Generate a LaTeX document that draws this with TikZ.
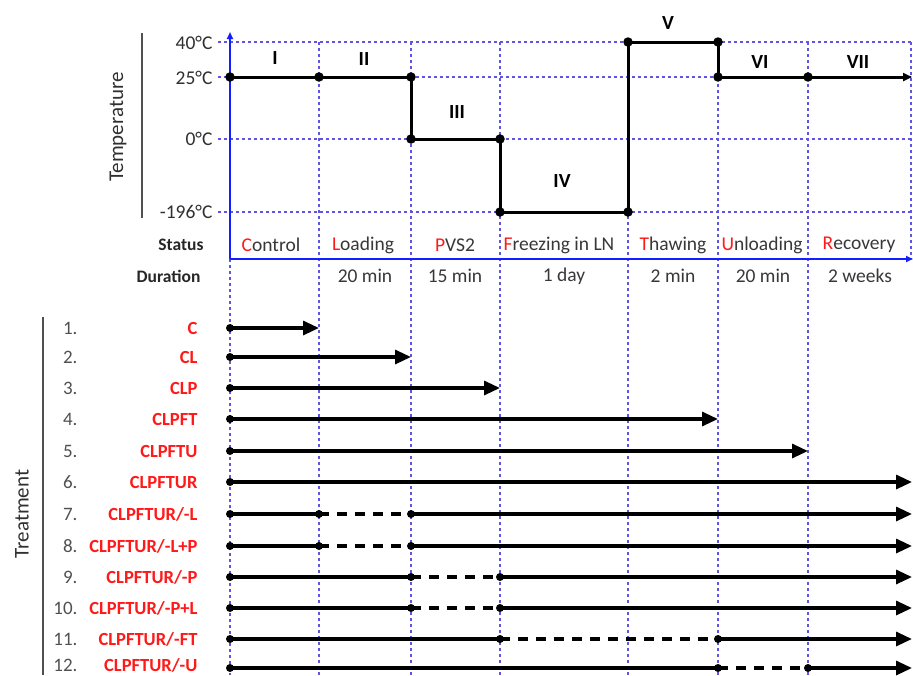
\documentclass[tikz,border=0pt]{standalone}
\usepackage{fontspec}
\setmainfont{Carlito}
\usetikzlibrary{arrows.meta}
\definecolor{gridblue}{RGB}{95,85,225}
\definecolor{axisblue}{RGB}{20,30,255}
\definecolor{lblred}{RGB}{255,25,25}
\definecolor{numgray}{RGB}{80,80,80}
\begin{document}
\begin{tikzpicture}[x=1pt,y=-1pt,
  gridln/.style={gridblue, line width=1.1pt, dash pattern=on 3pt off 3pt},
  axisln/.style={axisblue, line width=2pt, -{Triangle[length=7pt,width=6pt]}},
  sepln/.style={numgray, line width=1.3pt},
  prof/.style={black, line width=3pt},
  pdot/.style={circle, fill=black, inner sep=0pt, minimum size=9.5pt},
  tdot/.style={circle, fill=black, inner sep=0pt, minimum size=8pt},
  tline/.style={black, line width=3.2pt},
  tarrow/.style={tline, -{Triangle[length=16pt,width=14pt]}},
  gapln/.style={black, line width=3.2pt, dash pattern=on 10pt off 8pt},
  temp/.style={anchor=east, font=\fontsize{19.5}{21}\selectfont, text=numgray!60!black},
  roman/.style={font=\fontsize{20}{22}\selectfont\bfseries},
  stat/.style={font=\fontsize{19.5}{21}\selectfont, text=numgray!70!black},
  rowhead/.style={anchor=east, font=\fontsize{17.5}{20}\selectfont\bfseries, text=black!85},
  num/.style={anchor=east, font=\fontsize{19}{21}\selectfont, text=numgray},
  lbl/.style={anchor=east, font=\fontsize{18.5}{20}\selectfont\bfseries, text=lblred},
  axtitle/.style={rotate=90, font=\fontsize{21}{23}\selectfont, text=numgray!60!black}
]
\useasboundingbox (0,0) rectangle (913,675);
\fill[white] (0,0) rectangle (913,675);

% grid
\foreach \yy in {42,77,139,212} \draw[gridln] (218,\yy) -- (912,\yy);
\foreach \xx in {319,411,500,628,718,808} \draw[gridln] (\xx,42) -- (\xx,675);
\draw[gridln] (911,42) -- (911,259);
\draw[gridln] (230,259) -- (230,675);

% axes
\coordinate (orig) at (230,259);
\coordinate (ytop) at (230,32);
\coordinate (xend) at (913,259);
\draw[axisln] (orig) -- (ytop);
\draw[axisln] (orig) -- (xend);

% separators and axis titles
\draw[sepln] (142,33) -- (142,218);
\draw[sepln] (43,317) -- (43,675);
\node[axtitle] (ttemp) at (118,127) {Temperature};
\node[axtitle] (ttreat) at (22,514) {Treatment};

% temperature labels
\node[temp] (t40) at (216,43) {40°C};
\node[temp] (t25) at (216,78) {25°C};
\node[temp] (t0) at (216,139) {0°C};
\node[temp] (tm196) at (216,212) {-196°C};

% temperature profile
\coordinate (p1) at (230,77);
\coordinate (p2) at (319,77);
\coordinate (p3) at (411,77);
\coordinate (p4) at (411,139);
\coordinate (p5) at (500,139);
\coordinate (p6) at (500,212);
\coordinate (p7) at (628,212);
\coordinate (p8) at (628,42);
\coordinate (p9) at (718,42);
\coordinate (p10) at (718,77);
\coordinate (p11) at (808,77);
\coordinate (p12) at (912,77);
\draw[prof, line join=round] (p1) -- (p3) -- (p4) -- (p5) -- (p6) -- (p7) -- (p8) -- (p9) -- (p10) -- (p11);
\draw[prof, -{Triangle[length=9pt,width=8pt]}] (p11) -- (p12);
\foreach \p in {p1,p2,p3,p4,p5,p6,p7,p8,p9,p10,p11} \node[pdot] at (\p) {};

% roman numerals
\node[roman] (rI) at (275,58) {I};
\node[roman] (rII) at (364,59) {II};
\node[roman] (rIII) at (457,112) {III};
\node[roman] (rIV) at (562,181) {IV};
\node[roman] (rV) at (668,23) {V};
\node[roman] (rVI) at (760,62) {VI};
\node[roman] (rVII) at (858,62) {VII};

% status and duration
\node[rowhead] (hstat) at (207,245) {Status};
\node[rowhead] (hdur) at (204,276) {Duration};
\node[stat] (s1) at (271,245) {\textcolor{lblred}{C}ontrol};
\node[stat] (s2) at (363,245) {\textcolor{lblred}{L}oading};
\node[stat] (s3) at (455,245) {\textcolor{lblred}{P}VS2};
\node[stat] (s4) at (559,245) {\textcolor{lblred}{F}reezing in LN};
\node[stat] (s5) at (673,245) {\textcolor{lblred}{T}hawing};
\node[stat] (s6) at (762,245) {\textcolor{lblred}{U}nloading};
\node[stat] (s7) at (859,245) {\textcolor{lblred}{R}ecovery};
\node[stat] (d2) at (365,276) {20 min};
\node[stat] (d3) at (455,276) {15 min};
\node[stat] (d4) at (564,276) {1 day};
\node[stat] (d5) at (673,276) {2 min};
\node[stat] (d6) at (763,276) {20 min};
\node[stat] (d7) at (860,276) {2 weeks};

% treatment rows: labels
\node[num] (n1) at (81,328) {1.};   \node[lbl] (l1) at (201,328) {C};
\node[num] (n2) at (81,357) {2.};   \node[lbl] (l2) at (201,357) {CL};
\node[num] (n3) at (81,388) {3.};   \node[lbl] (l3) at (201,388) {CLP};
\node[num] (n4) at (81,419) {4.};   \node[lbl] (l4) at (201,419) {CLPFT};
\node[num] (n5) at (81,451) {5.};   \node[lbl] (l5) at (201,451) {CLPFTU};
\node[num] (n6) at (81,482) {6.};   \node[lbl] (l6) at (201,482) {CLPFTUR};
\node[num] (n7) at (81,514) {7.};   \node[lbl] (l7) at (201,514) {CLPFTUR/-L};
\node[num] (n8) at (81,546) {8.};   \node[lbl] (l8) at (201,546) {CLPFTUR/-L+P};
\node[num] (n9) at (81,577) {9.};   \node[lbl] (l9) at (201,577) {CLPFTUR/-P};
\node[num] (n10) at (81,608) {10.}; \node[lbl] (l10) at (201,608) {CLPFTUR/-P+L};
\node[num] (n11) at (81,639) {11.}; \node[lbl] (l11) at (201,639) {CLPFTUR/-FT};
\node[num] (n12) at (81,665) {12.}; \node[lbl] (l12) at (201,665) {CLPFTUR/-U};

% treatment rows: lines
\coordinate (a1) at (230,328); \coordinate (b1) at (319,328);
\draw[tarrow] (a1) -- (b1); \node[tdot] at (a1) {};
\coordinate (a2) at (230,357); \coordinate (b2) at (411,357);
\draw[tarrow] (a2) -- (b2); \node[tdot] at (a2) {};
\coordinate (a3) at (230,388); \coordinate (b3) at (500,388);
\draw[tarrow] (a3) -- (b3); \node[tdot] at (a3) {};
\coordinate (a4) at (230,419); \coordinate (b4) at (718,419);
\draw[tarrow] (a4) -- (b4); \node[tdot] at (a4) {};
\coordinate (a5) at (230,451); \coordinate (b5) at (808,451);
\draw[tarrow] (a5) -- (b5); \node[tdot] at (a5) {};
\coordinate (a6) at (230,482); \coordinate (b6) at (912,482);
\draw[tarrow] (a6) -- (b6); \node[tdot] at (a6) {};

\foreach \r/\yy/\xs/\xg in {7/514/319/411, 8/546/319/411, 9/577/411/500, 10/608/411/500, 11/639/500/718, 12/668/718/808}{
  \coordinate (a\r) at (230,\yy);
  \coordinate (s\r) at (\xs,\yy);
  \coordinate (g\r) at (\xg,\yy);
  \coordinate (b\r) at (912,\yy);
  \draw[tline] (a\r) -- (s\r);
  \draw[gapln] (s\r) -- (g\r);
  \draw[tarrow] (g\r) -- (b\r);
  \node[tdot] at (a\r) {};
  \node[tdot] at (s\r) {};
  \node[tdot] at (g\r) {};
}
\end{tikzpicture}
\end{document}
